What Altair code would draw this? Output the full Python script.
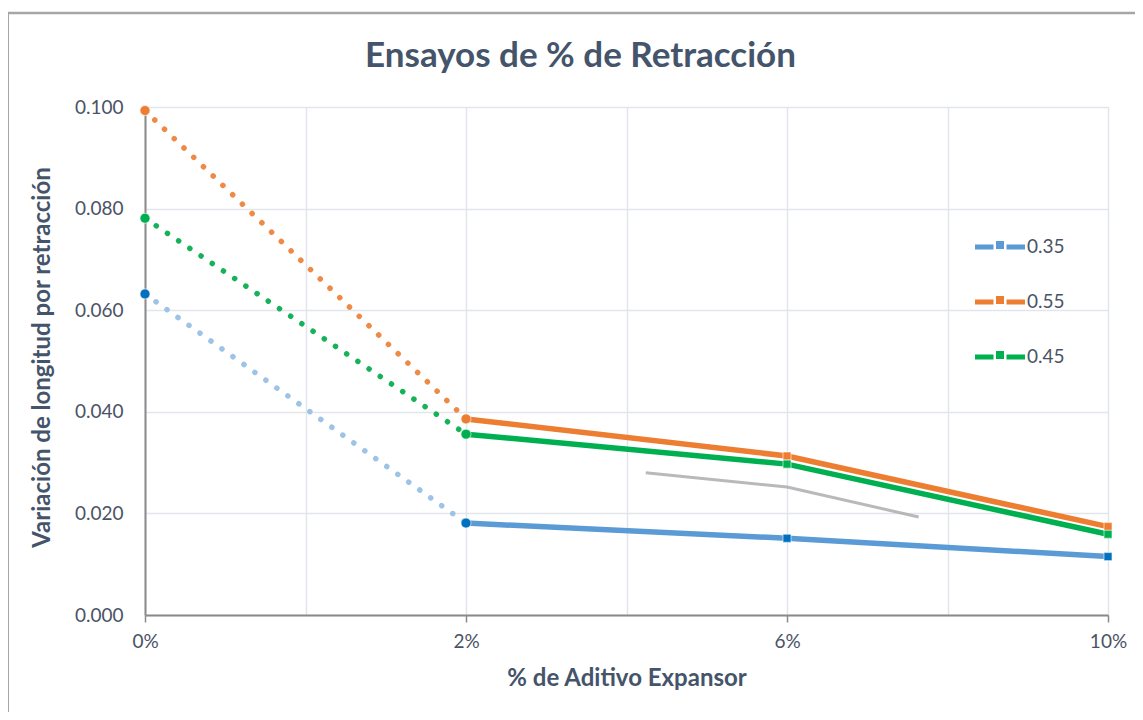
import json
import altair as alt
import pandas as pd

# ---- data ----
categories = ["0%", "2%", "6%", "10%"]
x_index = [0, 1, 2, 3]
series_names = ["0.35", "0.55", "0.45"]
s035 = [0.0632, 0.0181, 0.0151, 0.0115]
s055 = [0.0993, 0.0386, 0.0313, 0.0174]
s045 = [0.0781, 0.0356, 0.0297, 0.0159]
gray_x = [1.56, 2.0, 2.41]
gray_y = [0.0280, 0.0252, 0.0193]

line_colors = {"0.35": "#5B9BD5", "0.55": "#ED7D31", "0.45": "#00B050"}
dot_colors = {"0.35": "#9DC3E6", "0.55": "#EE8A45", "0.45": "#16B25A"}
marker_colors = {"0.35": "#0070C0", "0.55": "#ED7D31", "0.45": "#00B050"}

rows = []
for name, vals in zip(series_names, [s035, s055, s045]):
    for i, v in zip(x_index, vals):
        rows.append({
            "series": name, "x": i, "y": v,
            "shape": "circle" if i <= 1 else "square",
            "msize": 100 if i <= 1 else 64,
            "lcolor": line_colors[name], "dcolor": dot_colors[name],
            "mcolor": marker_colors[name],
        })
df = pd.DataFrame(rows)
gray_df = pd.DataFrame({"x": gray_x, "y": gray_y})

FONT = "Lato"
TXT = "#44546A"
LBL = "#4A5366"
GRID = "#E2E6EC"
AX = "#8A8A8A"

label_expr = ("datum.value % 1 === 0 ? " + json.dumps(categories) +
              "[datum.value] : ''")

x_axis = alt.Axis(
    values=[0, 0.5, 1, 1.5, 2, 2.5, 3],
    labelExpr=label_expr,
    title="% de Aditivo Expansor",
    titleFont=FONT, titleFontSize=24, titleFontWeight="bold", titleColor=TXT,
    titleY=63, titleBaseline="middle",
    labelFont=FONT, labelFontSize=19, labelColor=LBL, labelPadding=10,
    labelFlush=False, labelOverlap=False,
    grid=True, gridColor=GRID, gridWidth=1.5,
    domainColor=AX, domainWidth=2,
    tickColor=AX, tickWidth=1.5, tickSize=7,
    tickOpacity={"condition": {"test": "datum.value % 1 === 0", "value": 1}, "value": 0},
)
y_axis = alt.Axis(
    values=[0, 0.02, 0.04, 0.06, 0.08, 0.1],
    format=".3f",
    title="Variación de longitud por retracción",
    titleFont=FONT, titleFontSize=24, titleFontWeight="bold", titleColor=TXT,
    titleX=-103, titleY=250, titleBaseline="middle",
    labelFont=FONT, labelFontSize=19, labelColor=LBL, labelPadding=22,
    ticks=False, tickSize=0,
    grid=True, gridColor=GRID, gridWidth=1.5,
    domainColor=AX, domainWidth=2,
)

x_enc = alt.X("x:Q", scale=alt.Scale(domain=[0, 3], nice=False, zero=False), axis=x_axis)
y_enc = alt.Y("y:Q", scale=alt.Scale(domain=[0, 0.1], nice=False), axis=y_axis)

base = alt.Chart(df)

dotted = base.transform_filter("datum.x <= 1").mark_line(
    strokeDash=[0.1, 13.4], strokeCap="round", strokeWidth=5.5
).encode(x=x_enc, y=y_enc, color=alt.Color("dcolor:N", scale=None), detail="series:N")

gray = alt.Chart(gray_df).mark_line(color="#A8A8A8", strokeWidth=3, opacity=0.8).encode(
    x="x:Q", y="y:Q")

solid = base.transform_filter("datum.x >= 1").mark_line(strokeWidth=5.5).encode(
    x="x:Q", y="y:Q", color=alt.Color("lcolor:N", scale=None), detail="series:N")

legend_path = ("M-1,-0.1H-0.26V0.1H-1Z M-0.16,-0.24H0.16V0.08H-0.16Z "
               "M0.26,-0.1H1V0.1H0.26Z")

legend_layer = base.transform_filter("datum.x >= 2").mark_point(
    filled=True, shape="square", size=64, opacity=1
).encode(
    x="x:Q", y="y:Q",
    color=alt.Color("series:N",
                    scale=alt.Scale(domain=series_names,
                                    range=[line_colors[s] for s in series_names]),
                    legend=alt.Legend(
                        orient="none", legendX=830, legendY=115, title=None,
                        symbolType=legend_path, symbolSize=2500,
                        symbolStrokeWidth=0, symbolOpacity=1,
                        labelFont=FONT, labelFontSize=19, labelColor=LBL,
                        labelOffset=2, rowPadding=20,
                    )),
)

markers = base.mark_point(filled=True, opacity=1, stroke="white", strokeWidth=0.6).encode(
    x="x:Q", y="y:Q",
    color=alt.Color("mcolor:N", scale=None),
    shape=alt.Shape("shape:N", scale=None),
    size=alt.Size("msize:Q", scale=None),
)

border_df = pd.DataFrame({"k": [0]})
border_left = alt.Chart(border_df).mark_rule(color="#A6A6A6", strokeWidth=2).encode(
    x=alt.value(-137), y=alt.value(-94), y2=alt.value(605))
border_top = alt.Chart(border_df).mark_rule(color="#A6A6A6", strokeWidth=2.5).encode(
    x=alt.value(-137), x2=alt.value(990), y=alt.value(-94))

chart = alt.layer(
    dotted, gray, solid, legend_layer, markers, border_left, border_top
).resolve_scale(color="independent").properties(
    width=963, height=508,
    autosize=alt.AutoSizeParams(type="none"),
    padding={"left": 137, "top": 99, "right": 27, "bottom": 97},
    title=alt.TitleParams(
        "Ensayos de % de Retracción", font=FONT, fontSize=35, fontWeight="bold",
        color=TXT, anchor="middle", dx=-46, dy=97, offset=0, baseline="bottom"),
).configure_view(stroke=None).configure(background="white")

chart.save("out.html", embed_options={"renderer": "svg", "actions": False})
